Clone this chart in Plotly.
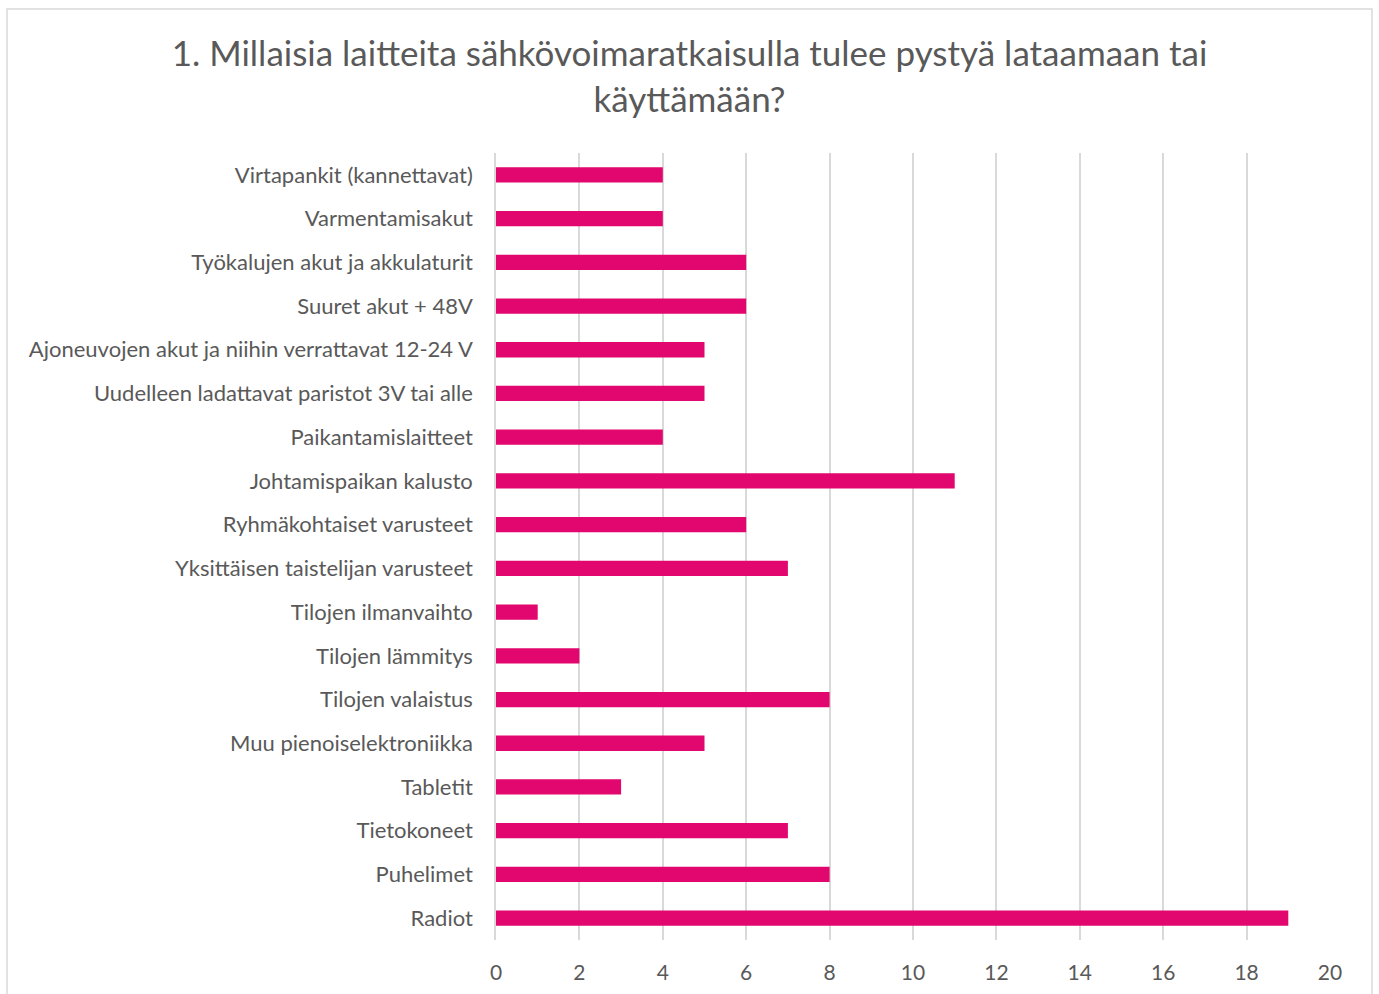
import plotly.graph_objects as go

categories = [
    "Virtapankit (kannettavat)",
    "Varmentamisakut",
    "Työkalujen akut ja akkulaturit",
    "Suuret akut + 48V",
    "Ajoneuvojen akut ja niihin verrattavat 12-24 V",
    "Uudelleen ladattavat paristot 3V tai alle",
    "Paikantamislaitteet",
    "Johtamispaikan kalusto",
    "Ryhmäkohtaiset varusteet",
    "Yksittäisen taistelijan varusteet",
    "Tilojen ilmanvaihto",
    "Tilojen lämmitys",
    "Tilojen valaistus",
    "Muu pienoiselektroniikka",
    "Tabletit",
    "Tietokoneet",
    "Puhelimet",
    "Radiot",
]
values = [4, 4, 6, 6, 5, 5, 4, 11, 6, 7, 1, 2, 8, 5, 3, 7, 8, 19]
x_ticks = [0, 2, 4, 6, 8, 10, 12, 14, 16, 18, 20]

title_text = "1. Millaisia laitteita sähkövoimaratkaisulla tulee pystyä lataamaan tai<br>käyttämään?"

W, H = 1379, 994
L, R, T, B = 496, 49, 153, 54
pw, ph = W - L - R, H - T - B

font_family = "Lato, Open Sans, sans-serif"
grey = "#595959"

fig = go.Figure(
    go.Bar(
        y=categories,
        x=values,
        orientation="h",
        marker=dict(color="#E2066F", line=dict(width=0)),
        width=0.35,
    )
)

fig.update_layout(
    width=W,
    height=H,
    margin=dict(l=L, r=R, t=T, b=B, autoexpand=False),
    paper_bgcolor="white",
    plot_bgcolor="white",
    showlegend=False,
    font=dict(family=font_family, color=grey, size=22),
    title=dict(
        text=title_text,
        x=0.5,
        xref="container",
        xanchor="center",
        y=1 - 66 / H,
        yref="container",
        yanchor="middle",
        font=dict(size=35, color=grey, family=font_family),
    ),
    xaxis=dict(
        range=[0, 20],
        tickvals=x_ticks,
        showgrid=True,
        gridcolor="#D9D9D9",
        gridwidth=1.5,
        zeroline=False,
        showline=False,
        ticks="",
        ticklabelstandoff=18,
        tickfont=dict(size=21, color=grey),
        fixedrange=True,
    ),
    yaxis=dict(
        autorange="reversed",
        showgrid=False,
        showline=True,
        linecolor="#D9D9D9",
        linewidth=1.5,
        ticks="",
        ticklabelstandoff=17,
        tickfont=dict(size=22, color=grey),
        fixedrange=True,
    ),
    shapes=[
        dict(
            type="rect",
            xref="paper",
            yref="paper",
            x0=(7 - L) / pw,
            x1=(1372 - L) / pw,
            y0=(H - B - 1000) / ph,
            y1=(H - B - 9) / ph,
            line=dict(color="#D9D9D9", width=1.5),
            fillcolor="rgba(0,0,0,0)",
            layer="below",
        )
    ],
)

fig.write_html(
    "out.html",
    config={"displayModeBar": False},
    post_script="document.body.style.margin='0';document.body.style.overflow='hidden';",
)
